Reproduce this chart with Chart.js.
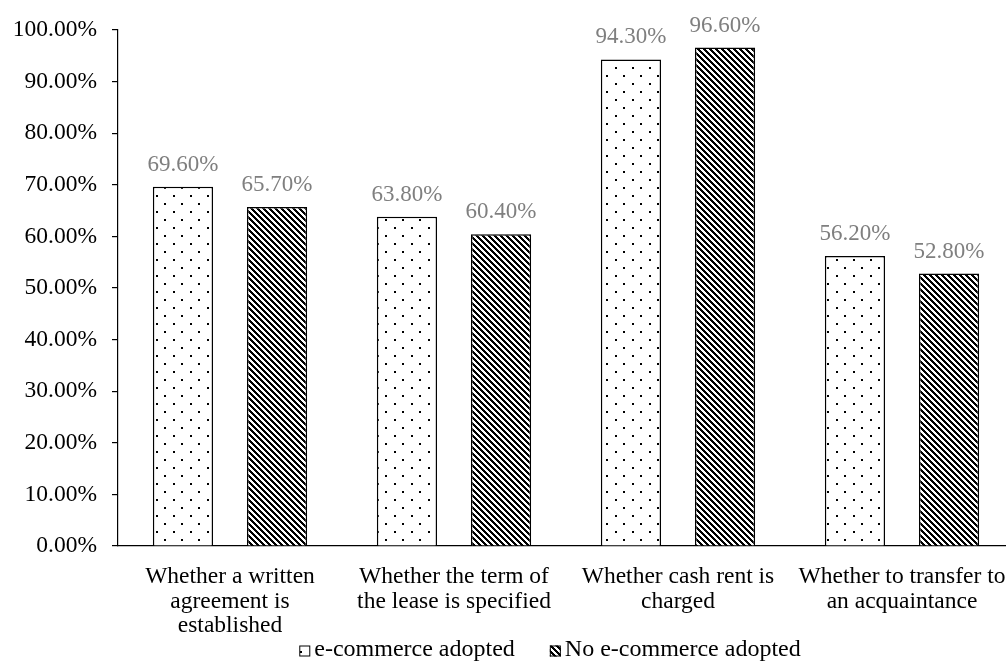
<!DOCTYPE html>
<html>
<head>
<meta charset="utf-8">
<script src="https://cdn.jsdelivr.net/npm/chart.js@4.4.1/dist/chart.umd.min.js"></script>
<style>
  html,body{margin:0;padding:0;background:#fff;overflow:hidden;}
  #wrap{width:1006px;height:662px;overflow:hidden;}
</style>
</head>
<body>
<div id="wrap"><canvas id="myChart" width="1014" height="662"></canvas></div>
<script>
const categories = [
    ["Whether a written", "agreement is", "established"],
    ["Whether the term of", "the lease is specified"],
    ["Whether cash rent is", "charged"],
    ["Whether to transfer to", "an acquaintance"]
];
const seriesNames = ["e-commerce adopted", "No e-commerce adopted"];
const adopted = [69.6, 63.8, 94.3, 56.2];
const notAdopted = [65.7, 60.4, 96.6, 52.8];
const yTicks = [0, 10, 20, 30, 40, 50, 60, 70, 80, 90, 100];

const FONT = "'Liberation Serif', 'Times New Roman', serif";

// pixel patterns for the two bar fills
let makeDots = () => {
    let c = document.createElement('canvas');
    c.width = 17; c.height = 16;
    let g = c.getContext('2d');
    g.fillStyle = '#fff';
    g.fillRect(0, 0, 17, 16);
    g.fillStyle = '#000';
    g.fillRect(3, 3, 2, 2);
    g.fillRect(11, 11, 2, 2);
    return g.createPattern(c, 'repeat');
};

let makeHatch = () => {
    let n = 6;
    let c = document.createElement('canvas');
    c.width = n; c.height = n;
    let g = c.getContext('2d');
    let img = g.createImageData(n, n);
    for (let y = 0; y < n; y++) {
        for (let x = 0; x < n; x++) {
            let k = ((x - y) % n + n) % n;
            let v = k < 3 ? 0 : 255;
            let i = (y * n + x) * 4;
            img.data[i] = v; img.data[i + 1] = v; img.data[i + 2] = v; img.data[i + 3] = 255;
        }
    }
    g.putImageData(img, 0, 0);
    return g.createPattern(c, 'repeat');
};

// values above the bars
const valueLabels = {
    id: 'valueLabels',
    afterDatasetsDraw(chart) {
        let ctx = chart.ctx;
        ctx.save();
        ctx.font = "23px " + FONT;
        ctx.fillStyle = '#7f7f7f';
        ctx.textAlign = 'center';
        ctx.textBaseline = 'alphabetic';
        chart.data.datasets.forEach((ds, i) => {
            chart.getDatasetMeta(i).data.forEach((bar, j) => {
                ctx.fillText(ds.data[j].toFixed(2) + '%', bar.x, bar.y - 16);
            });
        });
        ctx.restore();
    }
};

// legend drawn by hand: small box right next to the text
const bottomLegend = {
    id: 'bottomLegend',
    afterDraw(chart) {
        let ctx = chart.ctx;
        ctx.save();
        ctx.font = "24px " + FONT;
        let box = 11, gap = 4, between = 35;
        let widths = chart.data.datasets.map(ds => ctx.measureText(ds.label).width);
        let total = widths.reduce((a, w) => a + box + gap + w, 0) + between * (widths.length - 1);
        let cx = (chart.chartArea.left + chart.chartArea.right) / 2 - 16;
        let x = cx - total / 2;
        let y = chart.height - 11;
        ctx.textBaseline = 'middle';
        ctx.textAlign = 'left';
        chart.data.datasets.forEach((ds, i) => {
            ctx.fillStyle = ds.backgroundColor;
            ctx.fillRect(x, y - box / 2, box, box);
            ctx.strokeStyle = '#000';
            ctx.lineWidth = 1;
            ctx.strokeRect(x + 0.5, y - box / 2 + 0.5, box - 1, box - 1);
            ctx.fillStyle = '#000';
            ctx.fillText(ds.label, x + box + gap, y - 1);
            x += box + gap + widths[i] + between;
        });
        ctx.restore();
    }
};

let ctx = document.getElementById('myChart').getContext('2d');
let chart = new Chart(ctx, {
    type: 'bar',
    data: {
        labels: categories,
        datasets: [{
            label: seriesNames[0],
            data: adopted,
            backgroundColor: makeDots(),
            borderColor: '#000',
            borderWidth: 1.5,
            categoryPercentage: 0.84,
            barPercentage: 0.64
        }, {
            label: seriesNames[1],
            data: notAdopted,
            backgroundColor: makeHatch(),
            borderColor: '#000',
            borderWidth: 1.5,
            categoryPercentage: 0.84,
            barPercentage: 0.64
        }]
    },
    options: {
        responsive: false,
        animation: false,
        devicePixelRatio: 1,
        layout: {padding: {top: 30, right: 0, bottom: 24, left: 0}},
        plugins: {
            legend: {display: false},
            tooltip: {enabled: false}
        },
        scales: {
            x: {
                grid: {display: true, drawOnChartArea: false, drawTicks: false, color: 'rgba(0,0,0,0)'},
                border: {display: true, color: '#000', width: 1.2},
                ticks: {
                    color: '#000',
                    padding: 19,
                    maxRotation: 0,
                    autoSkip: false,
                    font: {family: FONT, size: 23.5, lineHeight: 1.04}
                },
                afterFit: (scale) => {
                    scale.paddingLeft = 0;
                    scale.paddingRight = 0;
                    scale.height = 92;
                }
            },
            y: {
                min: 0,
                max: 100,
                afterBuildTicks: (scale) => {
                    scale.ticks = yTicks.map(v => ({value: v}));
                },
                grid: {display: true, drawOnChartArea: false, drawTicks: true, tickLength: 6, color: '#000', lineWidth: 1.2},
                border: {display: true, color: '#000', width: 1.2},
                ticks: {
                    color: '#000',
                    padding: 15,
                    font: {family: FONT, size: 23.5},
                    callback: (v) => Number(v).toFixed(2) + '%'
                },
                afterFit: (scale) => {
                    scale.width = 118;
                }
            }
        }
    },
    plugins: [valueLabels, bottomLegend]
});
</script>
</body>
</html>
